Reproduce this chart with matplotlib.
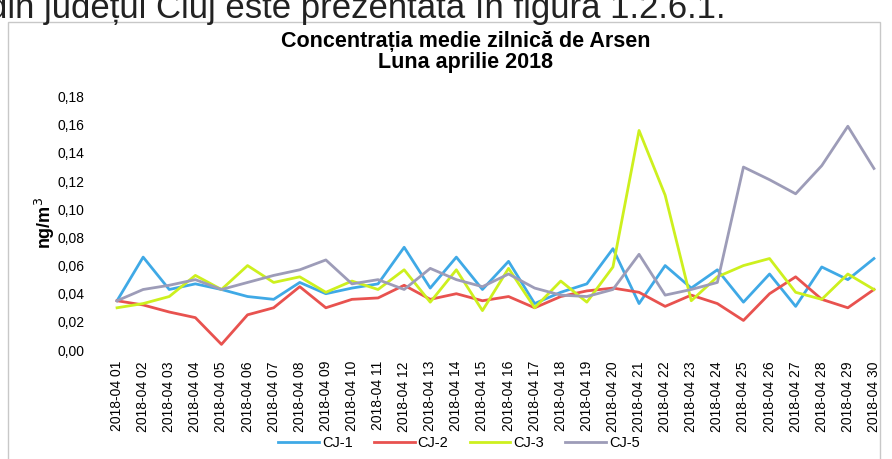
import matplotlib
matplotlib.use("Agg")
import matplotlib.pyplot as plt
from matplotlib.patches import Rectangle
from matplotlib.ticker import FuncFormatter

plt.rcParams['font.family'] = ['Liberation Sans', 'DejaVu Sans']

days = [f"2018-04 {d:02d}" for d in range(1, 31)]

cj1 = [0.035, 0.066, 0.043, 0.047, 0.043, 0.038, 0.036, 0.048, 0.040, 0.044,
       0.047, 0.073, 0.044, 0.066, 0.043, 0.063, 0.033, 0.041, 0.047, 0.072,
       0.033, 0.060, 0.044, 0.057, 0.034, 0.054, 0.031, 0.059, 0.050, 0.065]
cj2 = [0.035, 0.032, 0.027, 0.023, 0.004, 0.025, 0.030, 0.045, 0.030, 0.036,
       0.037, 0.046, 0.036, 0.040, 0.035, 0.038, 0.030, 0.038, 0.042, 0.044,
       0.041, 0.031, 0.039, 0.033, 0.021, 0.040, 0.052, 0.036, 0.030, 0.043]
cj3 = [0.030, 0.033, 0.038, 0.053, 0.043, 0.060, 0.048, 0.052, 0.041, 0.049,
       0.043, 0.057, 0.034, 0.057, 0.028, 0.058, 0.030, 0.049, 0.034, 0.059,
       0.156, 0.110, 0.035, 0.052, 0.060, 0.065, 0.041, 0.036, 0.054, 0.043]
cj5 = [0.035, 0.043, 0.046, 0.050, 0.043, 0.048, 0.053, 0.057, 0.064, 0.047,
       0.050, 0.043, 0.058, 0.050, 0.045, 0.054, 0.044, 0.039, 0.038, 0.043,
       0.068, 0.039, 0.043, 0.048, 0.130, 0.121, 0.111, 0.131, 0.159, 0.129]

series = [("CJ-1", cj1, "#3fa9e6"), ("CJ-2", cj2, "#e8524f"),
          ("CJ-3", cj3, "#cdf01e"), ("CJ-5", cj5, "#9d9cb8")]
yticks = [0.00, 0.02, 0.04, 0.06, 0.08, 0.10, 0.12, 0.14, 0.16, 0.18]

fig = plt.figure(figsize=(8.92, 4.59), dpi=100)
W, H = 892, 459

# chart frame
fig.patches.append(Rectangle((8 / W, -0.01), 872 / W, 1.01 - 22 / H, transform=fig.transFigure,
                             fill=False, edgecolor="#c8c8c8", linewidth=1.0))
# partial document text above the chart (cut at the top edge in the scan)
fig.text(-0.014, 1 - 18 / H, "din județul Cluj este prezentată în figura 1.2.6.1.",
         fontsize=25, ha="left", va="baseline", color="#222222")

ax = fig.add_axes([104 / W, 1 - 350 / H, 783 / W, (350 - 96.7) / H])
x = list(range(len(days)))
for name, vals, col in series:
    ax.plot(x, vals, color=col, linewidth=2.0, label=name)

ax.set_xlim(-0.5, len(days) - 0.5)
ax.set_ylim(0, 0.18)
ax.set_yticks(yticks)
ax.yaxis.set_major_formatter(FuncFormatter(lambda v, p: f"{v:.2f}".replace(".", ",")))
ax.set_xticks(x)
ax.set_xticklabels(days, rotation=90, fontsize=10)
ax.tick_params(axis="y", labelsize=10, length=0, pad=14)
ax.tick_params(axis="x", length=0, pad=8)
for s in ax.spines.values():
    s.set_visible(False)
ax.set_ylabel("ng/m$^3$", fontsize=13, fontweight="bold", labelpad=0)

fig.text(466 / W, 1 - 52 / H, "Concentrația medie zilnică de Arsen\nLuna aprilie 2018",
         ha="center", va="center", fontsize=15.5, fontweight="bold", linespacing=0.95)

fig.legend(loc="center", bbox_to_anchor=(459 / W, 1 - 443 / H), ncol=4, frameon=False,
           fontsize=10.5, handlelength=2.8, columnspacing=1.45, handletextpad=0.2)

fig.savefig("out.png", dpi=100)
